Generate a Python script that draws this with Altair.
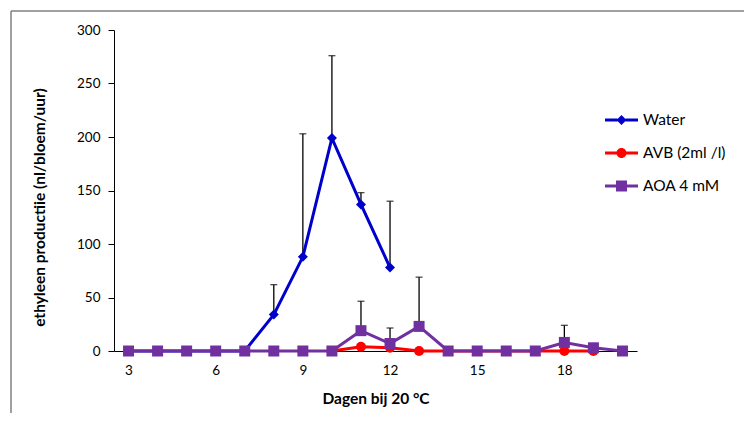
import altair as alt
import pandas as pd

# ---- data ----
series_names = ["Water", "AVB (2ml /l)", "AOA 4 mM"]
series_colors = ["#0000CC", "#FF0000", "#7030A0"]
marker_shapes = ["diamond", "circle", "square"]
marker_sizes = [100, 100, 121]

days_water = [3, 4, 5, 6, 7, 8, 9, 10, 11, 12]
water = [0, 0, 0, 0, 0, 34, 88, 199, 137, 78]
water_err = [0, 0, 0, 0, 0, 28, 115, 77, 11, 62]

days_avb = [10, 11, 12, 13, 14, 15, 16, 17, 18, 19]
avb = [0, 4, 3, 0, 0, 0, 0, 0, 0, 0]
avb_err = [0, 0, 0, 0, 0, 0, 0, 0, 0, 0]

days_aoa = [3, 4, 5, 6, 7, 8, 9, 10, 11, 12, 13, 14, 15, 16, 17, 18, 19, 20]
aoa = [0, 0, 0, 0, 0, 0, 0, 0, 19, 7, 23, 0, 0, 0, 0, 8, 3, 0]
aoa_err = [0, 0, 0, 0, 0, 0, 0, 0, 27.5, 14.5, 46, 0, 0, 0, 0, 16, 0, 0]

x_ticks = [3, 6, 9, 12, 15, 18]
y_ticks = [0, 50, 100, 150, 200, 250, 300]

rows = []
for name, days, vals, errs in [
    (series_names[0], days_water, water, water_err),
    (series_names[1], days_avb, avb, avb_err),
    (series_names[2], days_aoa, aoa, aoa_err),
]:
    for d, v, e in zip(days, vals, errs):
        rows.append({"series": name, "day": d, "value": v, "err": e, "top": v + e})
df = pd.DataFrame(rows)
err_df = df[df["err"] > 0]

FONT = "Lato"

xs = alt.Scale(domain=[2.5, 20.5], nice=False, zero=False)
ys = alt.Scale(domain=[0, 300], nice=False)
x_axis = alt.Axis(values=x_ticks, ticks=False, grid=False, domainColor="#000000",
                  domainWidth=1, labelFontSize=13.5, labelColor="#000000", labelPadding=12,
                  title="Dagen bij 20 °C", titleFontSize=15.5, titleFontWeight="bold",
                  titleColor="#000000", titleY=47, titleBaseline="middle")
y_axis = alt.Axis(values=y_ticks, grid=False, domainColor="#000000", domainWidth=1,
                  tickColor="#000000", tickSize=6, labelFontSize=13.5, labelColor="#000000",
                  labelPadding=8, title="ethyleen productiie (nl/bloem/uur)",
                  titleFontSize=15.5, titleFontWeight="bold", titleColor="#000000",
                  titleX=-67, titleY=177, titleAlign="center", titleAngle=270)

X = alt.X("day:Q", scale=xs, axis=x_axis)
Y = alt.Y("value:Q", scale=ys, axis=y_axis)

base = alt.Chart(df)

# chart-area frame (decoration)
frame_v = alt.Chart(pd.DataFrame({"k": [0]})).mark_rule(color="#808080", strokeWidth=1.5).encode(
    x=alt.value(-103), y=alt.value(-19), y2=alt.value(400))
frame_h = alt.Chart(pd.DataFrame({"k": [0]})).mark_rule(color="#808080", strokeWidth=1.5).encode(
    x=alt.value(-103), x2=alt.value(700), y=alt.value(-19))

err_rule = alt.Chart(err_df).mark_rule(color="#000000", strokeWidth=1.3).encode(
    x=X, y=Y, y2="top:Q")
err_cap = alt.Chart(err_df).mark_tick(color="#000000", thickness=1.3, size=7,
                                      orient="horizontal").encode(
    x=X, y=alt.Y("top:Q", scale=ys, axis=y_axis))

layers = [frame_v, frame_h, err_rule, err_cap]
for name, col, shp, sz in zip(series_names, series_colors, marker_shapes, marker_sizes):
    sub = base.transform_filter(alt.datum.series == name)
    layers.append(sub.mark_line(color=col, strokeWidth=3).encode(x=X, y=Y))
    layers.append(sub.mark_point(filled=True, opacity=1, color=col, shape=shp, size=sz)
                  .encode(x=X, y=Y))

legend_line = "M-1.65,-0.15H-0.4V0.15H-1.65Z M0.4,-0.15H1.65V0.15H0.4Z "
legend_paths = [
    legend_line + "M0,-0.5L0.5,0L0,0.5L-0.5,0Z",
    legend_line + "M-0.5,0A0.5,0.5 0 1,1 0.5,0A0.5,0.5 0 1,1 -0.5,0Z",
    legend_line + "M-0.55,-0.55H0.55V0.55H-0.55Z",
]
leg = alt.Legend(title=None, orient="none", legendX=497.5, legendY=80, padding=0,
                 symbolSize=400, symbolStrokeWidth=0, labelOffset=11.5, rowPadding=14,
                 labelFontSize=15.5, labelColor="#000000", labelFont=FONT)
legend_layer = alt.Chart(pd.DataFrame({"series": series_names})).mark_point(
    filled=True, opacity=1).encode(
    color=alt.Color("series:N", scale=alt.Scale(domain=series_names, range=series_colors),
                    legend=leg, sort=series_names),
    shape=alt.Shape("series:N", scale=alt.Scale(domain=series_names, range=legend_paths),
                    legend=leg, sort=series_names),
).transform_filter("false")
layers.append(legend_layer)

chart = alt.layer(*layers).properties(
    width=523, height=321,
    autosize=alt.AutoSizeParams(type="none"),
    padding={"left": 106, "top": 22, "right": 107, "bottom": 62},
    background="#ffffff",
).configure(font=FONT).configure_view(stroke=None)

chart.save("out.html", embed_options={"renderer": "svg", "actions": False})
